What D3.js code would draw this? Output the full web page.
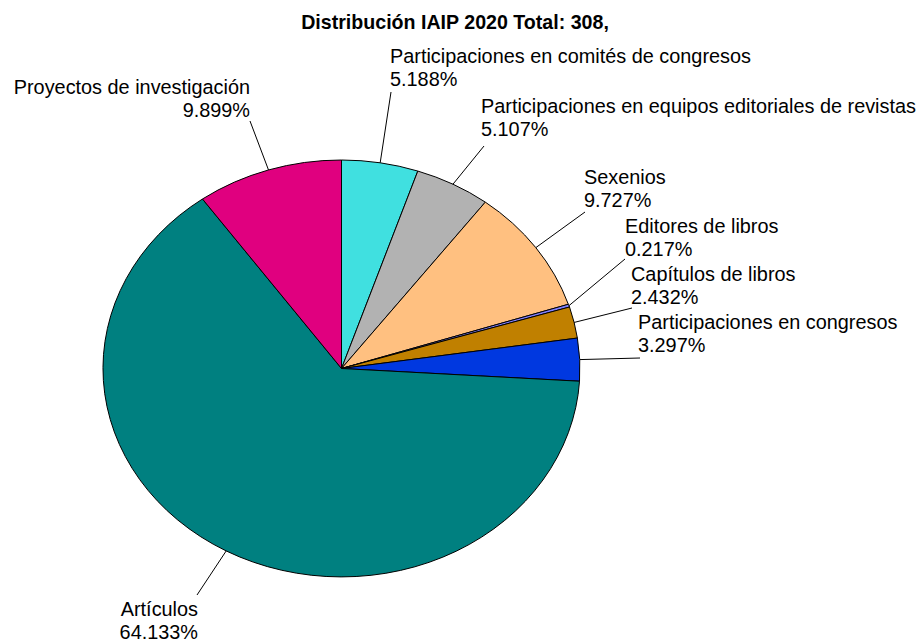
<!DOCTYPE html>
<html><head><meta charset="utf-8">
<script src="https://cdn.jsdelivr.net/npm/d3@7"></script>
<style>html,body{margin:0;padding:0;background:#fff;}svg{display:block;}</style>
</head><body>
<svg id="chart" width="923" height="643"></svg>
<script>
// ---- data ----
const title = "Distribución IAIP 2020 Total: 308,";
const categories = [
  "Participaciones en comités de congresos",
  "Participaciones en equipos editoriales de revistas",
  "Sexenios",
  "Editores de libros",
  "Capítulos de libros",
  "Participaciones en congresos",
  "Artículos",
  "Proyectos de investigación"
];
const values = [5.188, 5.107, 9.727, 0.217, 2.432, 3.297, 64.133, 9.899];
const colors = ["#40e0e0", "#b2b2b2", "#ffc080", "#8080ff", "#c08000", "#0038e0", "#008080", "#e0007f"];

// ---- layout ----
const W = 923, H = 643;
const cx = 341.5, cy = 368.5, rx = 238.5, ry = 208.5;
const lineGap = 23;
// label placement: x, first baseline, anchor, leader end point
const labelPos = [
  {x: 390, y: 62.5, a: "start", lx: 391, ly: 92},
  {x: 481, y: 112.5, a: "start", lx: 484, ly: 146},
  {x: 584, y: 184, a: "start", lx: 585, ly: 212},
  {x: 625, y: 232.5, a: "start", lx: 625, ly: 259},
  {x: 631, y: 280.5, a: "start", lx: 632, ly: 308},
  {x: 638, y: 328.5, a: "start", lx: 640, ly: 358},
  {x: 198, y: 616, a: "end", lx: 197, ly: 595},
  {x: 250, y: 94, a: "end", lx: 250, ly: 121}
];
const fontFamily = "'Liberation Sans', Arial, sans-serif";

const svg = d3.select("#chart");
const fmt = v => d3.format(".3f")(v) + "%";

// fit font size to reference width of a text line
function fitSize(text, target, weight) {
  const t = svg.append("text").attr("font-family", fontFamily).attr("font-size", 20)
    .attr("font-weight", weight).text(text);
  const w = t.node().getComputedTextLength();
  t.remove();
  return 20 * target / w;
}
const labelSize = fitSize(categories[0], 361, "normal");
const titleSize = fitSize(title, 308, "bold");

svg.append("text")
  .attr("x", 455).attr("y", 28.5)
  .attr("text-anchor", "middle")
  .attr("font-family", fontFamily).attr("font-weight", "bold")
  .attr("font-size", titleSize).attr("fill", "#000")
  .text(title);

const pie = d3.pie().sort(null).value(d => d)(values);
const arc = d3.arc().innerRadius(0).outerRadius(1);

const g = svg.append("g").attr("transform", `translate(${cx},${cy}) scale(${rx},${ry})`);
g.selectAll("path").data(pie).join("path")
  .attr("d", arc)
  .attr("fill", (d, i) => colors[i])
  .attr("stroke", "#000")
  .attr("stroke-width", 1)
  .attr("vector-effect", "non-scaling-stroke")
  .attr("stroke-linejoin", "round");

// leader lines
svg.append("g").selectAll("line").data(pie).join("line")
  .attr("x1", d => cx + rx * Math.sin((d.startAngle + d.endAngle) / 2))
  .attr("y1", d => cy - ry * Math.cos((d.startAngle + d.endAngle) / 2))
  .attr("x2", (d, i) => labelPos[i].lx)
  .attr("y2", (d, i) => labelPos[i].ly)
  .attr("stroke", "#000").attr("stroke-width", 1);

// labels
const lg = svg.append("g").attr("font-family", fontFamily).attr("font-size", labelSize).attr("fill", "#000");
categories.forEach((c, i) => {
  const p = labelPos[i];
  const t = lg.append("text").attr("text-anchor", p.a);
  t.append("tspan").attr("x", p.x).attr("y", p.y).text(c);
  t.append("tspan").attr("x", p.x).attr("y", p.y + lineGap).text(fmt(values[i]));
});
</script>
</body></html>
